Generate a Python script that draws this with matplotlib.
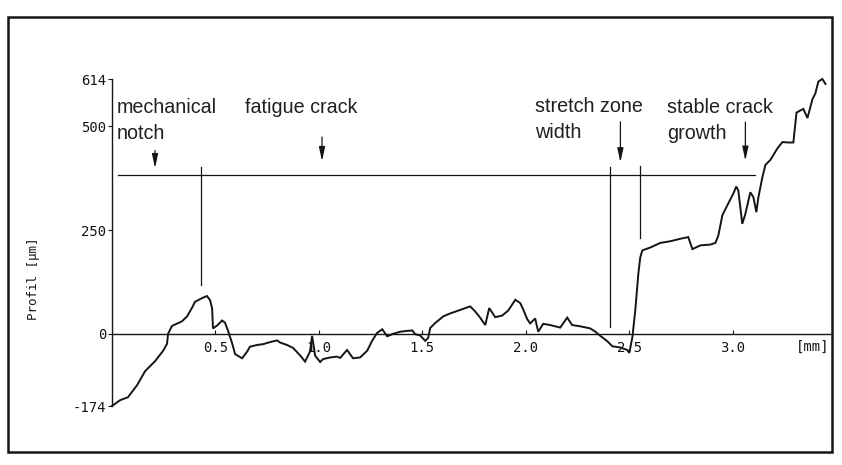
import matplotlib
matplotlib.use("Agg")
import matplotlib.pyplot as plt
from matplotlib.patches import Rectangle

# ---- profile data (x in mm, height in micrometres) ----
x_mm = [0.0, 0.039, 0.077, 0.121, 0.160, 0.208, 0.247, 0.266, 0.271, 0.290,
        0.338, 0.363, 0.387, 0.401, 0.435, 0.459, 0.474, 0.484, 0.488, 0.508,
        0.532, 0.546, 0.561, 0.580, 0.595, 0.629, 0.653, 0.667, 0.701, 0.730,
        0.764, 0.798, 0.812, 0.846, 0.875, 0.909, 0.933, 0.957, 0.967, 0.982,
        1.006, 1.020, 1.054, 1.088, 1.103, 1.136, 1.165, 1.199, 1.233, 1.257,
        1.281, 1.306, 1.330, 1.359, 1.393, 1.426, 1.451, 1.465, 1.489, 1.514,
        1.528, 1.538, 1.562, 1.601, 1.634, 1.668, 1.697, 1.731, 1.755, 1.779,
        1.804, 1.823, 1.852, 1.886, 1.915, 1.949, 1.973, 1.987, 2.007, 2.021,
        2.045, 2.060, 2.084, 2.118, 2.166, 2.200, 2.224, 2.263, 2.311, 2.336,
        2.360, 2.394, 2.418, 2.456, 2.490, 2.500, 2.515, 2.529, 2.544, 2.553,
        2.563, 2.602, 2.650, 2.698, 2.747, 2.785, 2.805, 2.843, 2.892, 2.916,
        2.930, 2.950, 2.974, 3.003, 3.017, 3.027, 3.046, 3.061, 3.085, 3.100,
        3.114, 3.124, 3.143, 3.158, 3.182, 3.216, 3.240, 3.269, 3.293, 3.308,
        3.341, 3.361, 3.385, 3.399, 3.414, 3.433, 3.448]
y_um = [-174, -160, -153, -124, -90, -66, -41, -24, 0, 19,
        30, 42, 63, 77, 86, 91, 81, 61, 13, 20,
        32, 27, 7, -22, -49, -59, -43, -31, -27, -25,
        -20, -16, -21, -27, -34, -52, -67, -43, -5, -53,
        -68, -61, -57, -55, -58, -39, -59, -57, -41, -17,
        2, 11, -6, 0, 5, 7, 8, -1, -4, -17,
        -10, 14, 26, 42, 49, 55, 60, 66, 54, 39,
        21, 62, 40, 44, 56, 82, 74, 59, 35, 25,
        37, 5, 24, 21, 15, 39, 21, 18, 13, 5,
        -5, -18, -30, -33, -39, -46, -8, 57, 146, 184,
        201, 208, 219, 223, 229, 233, 204, 213, 215, 219,
        236, 286, 310, 338, 355, 345, 265, 289, 341, 329,
        293, 329, 377, 407, 419, 447, 462, 461, 461, 533,
        542, 520, 565, 579, 608, 614, 602]

# ---- axes ticks ----
xtick_vals = [0.5, 1.0, 1.5, 2.0, 2.5, 3.0]
xtick_labels = ["0.5", "1.0", "1.5", "2.0", "2.5", "3.0"]
ytick_vals = [-174, 0, 250, 500, 614]
ytick_labels = ["-174", "0", "250", "500", "614"]

# ---- annotation geometry (data units) ----
ref_line_y = 383
ref_line_x = [0.029, 3.109]
marker_x = [0.430, 2.408, 2.551]
marker_bottom = [118, 16, 230]
marker_top = [402, 401, 404]
arrow_x = [0.208, 1.015, 2.457, 3.061]
arrow_top = [442, 474, 511, 510]
arrow_bottom = [399, 416, 413, 417]
label_texts = ["mechanical\nnotch", "fatigue crack", "stretch zone\nwidth", "stable crack\ngrowth"]
label_x = [0.025, 0.643, 2.045, 2.684]
label_y = [568, 569, 570, 568]

W, H = 842, 465
fig = plt.figure(figsize=(W / 100, H / 100), dpi=100)
fig.patch.set_facecolor("white")

left_px, right_px, top_px, bot_px = 112, 830, 79, 406
ax = fig.add_axes([left_px / W, 1 - bot_px / H, (right_px - left_px) / W, (bot_px - top_px) / H])
ax.set_xlim(0, 3.47)
ax.set_ylim(-174, 614)
ax.patch.set_alpha(0)

ink = "#151515"
ax.plot(x_mm, y_um, color=ink, lw=1.4, solid_joinstyle="miter", clip_on=False)

ax.spines["top"].set_visible(False)
ax.spines["right"].set_visible(False)
ax.spines["bottom"].set_position(("data", 0))
for s in ("left", "bottom"):
    ax.spines[s].set_linewidth(1.0)
    ax.spines[s].set_color(ink)

ax.set_xticks(xtick_vals)
ax.set_xticklabels(xtick_labels)
ax.set_yticks(ytick_vals)
ax.set_yticklabels(ytick_labels)
ax.tick_params(axis="x", direction="in", length=3, width=0.8, pad=5, colors=ink, labelsize=10)
ax.tick_params(axis="y", direction="out", length=3, width=0.8, pad=1, colors=ink, labelsize=10)
for lab in ax.get_xticklabels() + ax.get_yticklabels():
    lab.set_fontfamily("DejaVu Sans Mono")

ax.set_ylabel("Profil [µm]", fontfamily="DejaVu Sans Mono", fontsize=9, color=ink, va="center")
ax.yaxis.set_label_coords((33 - left_px) / (right_px - left_px), (bot_px - 279) / (bot_px - top_px))
ax.text(3.385, -14, "[mm]", fontfamily="DejaVu Sans Mono", fontsize=10, color=ink,
        ha="center", va="top")

# reference line and markers
ax.plot(ref_line_x, [ref_line_y, ref_line_y], color=ink, lw=0.9)
for mx, mb, mt in zip(marker_x, marker_bottom, marker_top):
    ax.plot([mx, mx], [mb, mt], color=ink, lw=0.9)

for axx, at, ab in zip(arrow_x, arrow_top, arrow_bottom):
    ax.annotate("", xy=(axx, ab), xytext=(axx, at),
                arrowprops=dict(arrowstyle="-|>,head_width=0.15,head_length=0.7",
                                color=ink, lw=0.9, mutation_scale=12,
                                shrinkA=0, shrinkB=0))

for t, tx, ty in zip(label_texts, label_x, label_y):
    ax.text(tx, ty, t, fontfamily="Liberation Sans", fontsize=14.2, color="#202020",
            ha="left", va="top", linespacing=1.45)

# outer frame
fig.add_artist(Rectangle((8 / W, 1 - 452 / H), (832 - 8) / W, (452 - 17) / H,
                         transform=fig.transFigure, fill=False, lw=1.8, ec=ink))

fig.savefig("out.png", dpi=100, facecolor="white")
